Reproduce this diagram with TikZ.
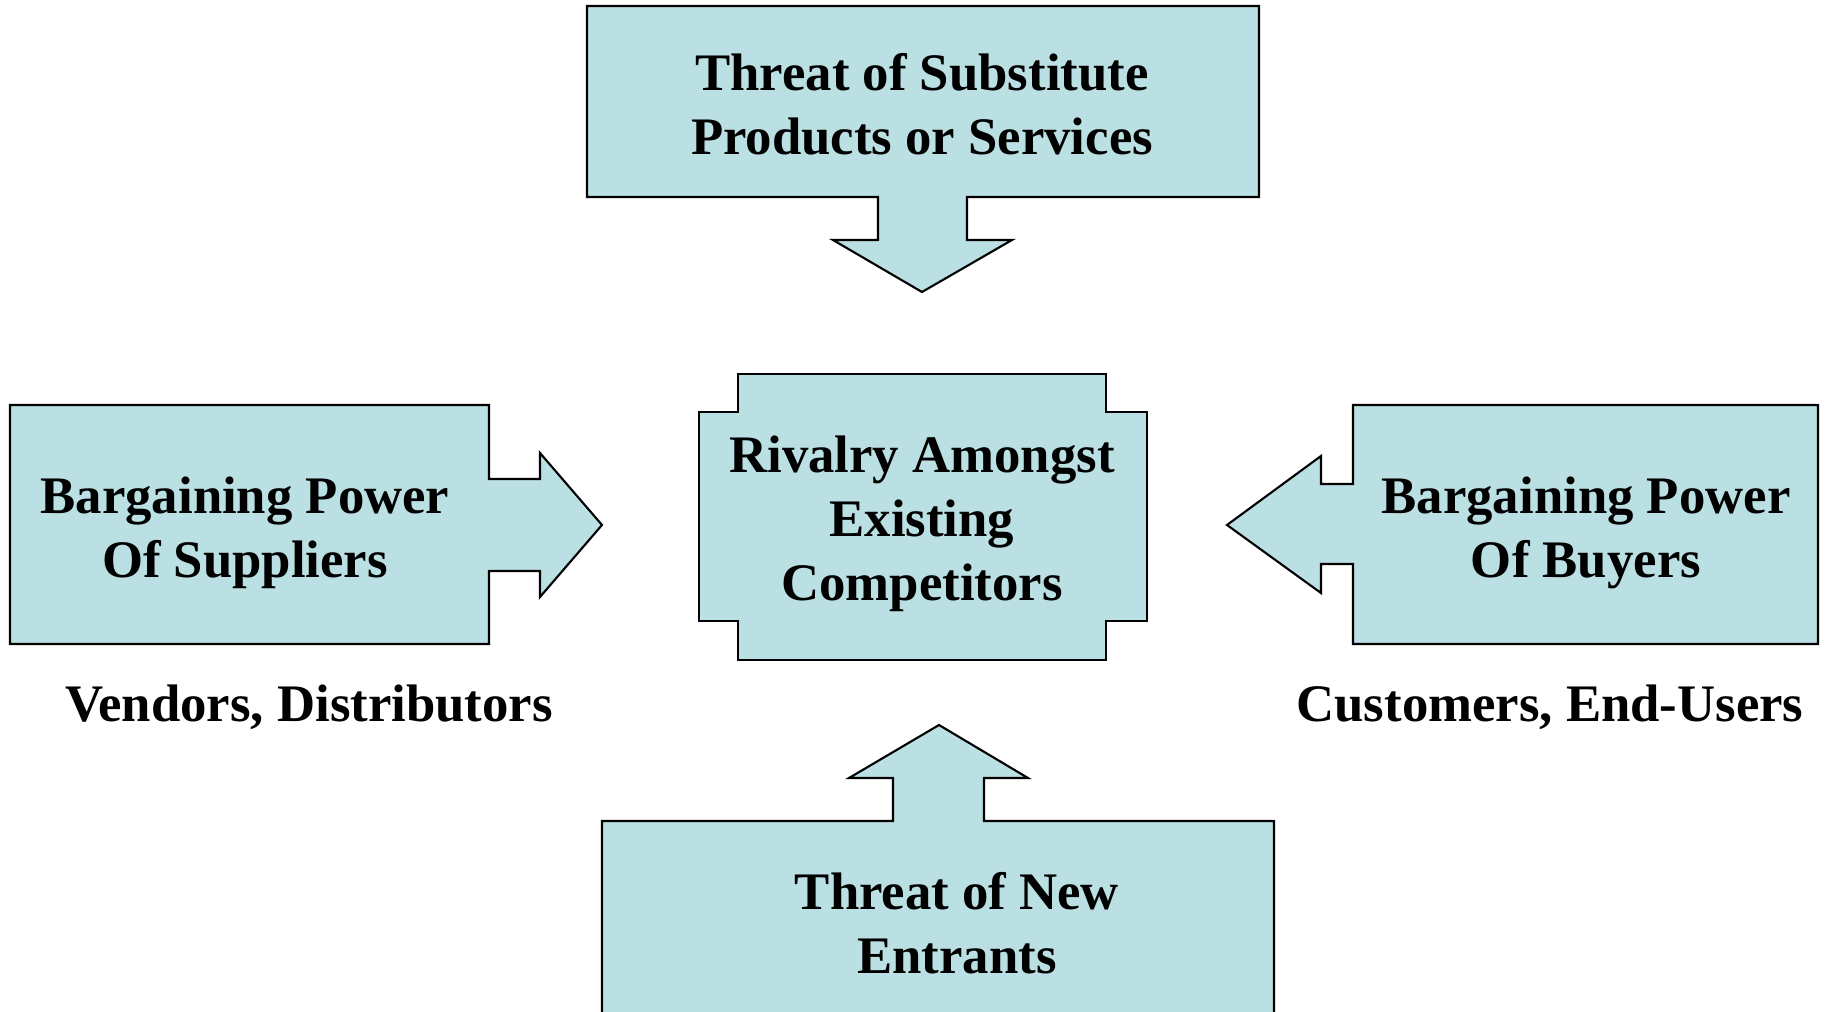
\documentclass[tikz,border=0pt]{standalone}
\usepackage{fontspec}
\setmainfont{Liberation Serif}
\usepackage{tikz}
\definecolor{paleteal}{RGB}{187,224,227}

\begin{document}
\begin{tikzpicture}[x=0.01cm,y=-0.01cm,
  force/.style={fill=paleteal,draw=black,line width=0.6pt},
  forcetext/.style={align=center,font=\bfseries\fontsize{15}{18.2}\selectfont}]
\useasboundingbox (0,0) rectangle (1826,1012);
% top: substitutes
\filldraw[force] (587,6) -- (1259,6) -- (1259,197) -- (967,197) -- (967,240) -- (1012,240) -- (922,292) -- (833,240) -- (878,240) -- (878,197) -- (587,197) -- cycle;
% middle: rivalry
\filldraw[force] (738,374) -- (1106,374) -- (1106,412) -- (1147,412) -- (1147,621) -- (1106,621) -- (1106,660) -- (738,660) -- (738,621) -- (699,621) -- (699,412) -- (738,412) -- cycle;
% left: suppliers
\filldraw[force] (10,405) -- (489,405) -- (489,479) -- (540,479) -- (540,453) -- (602,525) -- (540,597) -- (540,571) -- (489,571) -- (489,644) -- (10,644) -- cycle;
% right: buyers
\filldraw[force] (1818,405) -- (1353,405) -- (1353,484) -- (1321,484) -- (1321,456) -- (1227,525) -- (1321,593) -- (1321,564) -- (1353,564) -- (1353,644) -- (1818,644) -- cycle;
% bottom: new entrants
\filldraw[force] (602,1030) -- (602,821) -- (893,821) -- (893,778) -- (849,778) -- (939,725) -- (1028,778) -- (984,778) -- (984,821) -- (1274,821) -- (1274,1030);

\node[forcetext] (subst) at (922,104) {Threat of Substitute\\Products or Services};
\node[forcetext] (rivalry) at (922,524) {Rivalry Amongst\\Existing\\Competitors};
\node[forcetext] (suppliers) at (245,533) {Bargaining Power\\Of Suppliers};
\node[forcetext] (buyers) at (1586,533) {Bargaining Power\\Of Buyers};
\node[forcetext] (entrants) at (957,923) {Threat of New\\Entrants};
\node[forcetext] (vendors) at (309,707) {Vendors, Distributors};
\node[forcetext] (customers) at (1550,707) {Customers, End-Users};
\end{tikzpicture}
\end{document}
